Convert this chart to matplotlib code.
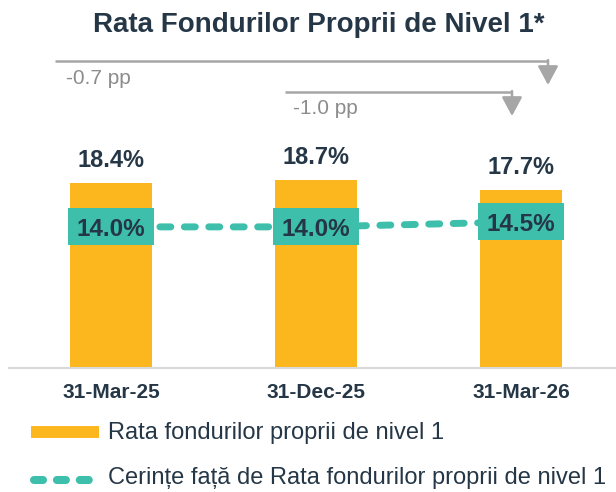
import matplotlib
matplotlib.use("Agg")
import matplotlib.pyplot as plt
from matplotlib.patches import Rectangle
from matplotlib.lines import Line2D

plt.rcParams['font.family'] = ['Liberation Sans', 'DejaVu Sans']

# data
dates = ["31-Mar-25", "31-Dec-25", "31-Mar-26"]
tier1_ratio = [18.4, 18.7, 17.7]
requirement = [14.0, 14.0, 14.5]
series_names = ["Rata fondurilor proprii de nivel 1",
                "Cerințe față de Rata fondurilor proprii de nivel 1"]
title = "Rata Fondurilor Proprii de Nivel 1*"
# (start index, end index, label)
changes = [(0, 2, "-0.7 pp"), (1, 2, "-1.0 pp")]

navy = "#253746"
orange = "#FDB71E"
teal = "#3DBFAC"
grey_arrow = "#A6A6A6"
grey_text = "#8C8C8C"

W, H = 616, 492
fig = plt.figure(figsize=(W / 100, H / 100), dpi=100)

# axes: baseline at y=368px, x from 9px to 616px
base_px = 368
top_px = 30
ax = fig.add_axes([9 / W, (H - base_px) / H, (W - 9) / W, (base_px - top_px) / H])
px_per_unit = 10.08
ax.set_ylim(0, (base_px - top_px) / px_per_unit)
x = list(range(len(dates)))
ax.set_xlim((9 - 111) / 205, (616 - 111) / 205)

ax.bar(x, tier1_ratio, width=0.4, color=orange, zorder=2)
for xi, v in zip(x, tier1_ratio):
    ax.annotate(f"{v:.1f}%", (xi, v), xytext=(0, 11), textcoords="offset points",
                ha="center", va="baseline", fontsize=17, fontweight="bold", color=navy)

ln, = ax.plot(x, requirement, color=teal, lw=5, zorder=3,
              dash_capstyle="round")
ln.set_dashes((1.58, 1.94))

box_h = 37 / px_per_unit
for xi, v in zip(x, requirement):
    ax.add_patch(Rectangle((xi - 0.21, v - box_h / 2), 0.42, box_h,
                           facecolor=teal, edgecolor="none", zorder=4))
    ax.text(xi, v, f"{v:.1f}%", ha="center", va="center_baseline", fontsize=17.5,
            fontweight="bold", color=navy, zorder=5)

# change arrows
arrow_rows = [((55 - 111) / 205, (548 - 111) / 205, (368 - 61) / px_per_unit,
               (368 - 85) / px_per_unit, (66 - 111) / 205, (368 - 79) / px_per_unit),
              ((285 - 111) / 205, (512 - 111) / 205, (368 - 92) / px_per_unit,
               (368 - 116) / px_per_unit, (293 - 111) / 205, (368 - 108) / px_per_unit)]
for (i0, i1, lab), (xs, xe, yl, ytip, xt, yt) in zip(changes, arrow_rows):
    ax.plot([xs, xe], [yl, yl], color=grey_arrow, lw=1.8, solid_capstyle="butt",
            clip_on=False)
    ax.annotate("", xy=(xe, ytip), xytext=(xe, yl + 0.09),
                arrowprops=dict(arrowstyle="-|>,head_length=1.15,head_width=0.62",
                                color=grey_arrow, lw=1.8, shrinkA=0, shrinkB=0),
                annotation_clip=False)
    ax.text(xt, yt, lab, ha="left", va="center", fontsize=15, color=grey_text)

ax.set_xticks(x)
ax.set_xticklabels(dates, fontsize=15, fontweight="bold", color=navy)
ax.tick_params(axis="x", length=0, pad=11)
ax.set_yticks([])
for s in ["top", "right", "left"]:
    ax.spines[s].set_visible(False)
ax.spines["bottom"].set_color("#D9D9D9")
ax.spines["bottom"].set_linewidth(1.5)

fig.text(319 / W, 1 - 25 / H, title, ha="center", va="center", fontsize=20,
         fontweight="bold", color=navy)

# legend
fig.add_artist(Line2D([31 / W, 99 / W], [1 - 432 / H, 1 - 432 / H], color=orange,
                      lw=8.6, solid_capstyle="butt", transform=fig.transFigure))
fig.text(108 / W, 1 - 433 / H, series_names[0], ha="left", va="center",
         fontsize=17, color=navy)
leg_line = Line2D([34 / W, 91 / W], [1 - 480 / H, 1 - 480 / H], color=teal, lw=5.8,
                  dash_capstyle="round", transform=fig.transFigure)
leg_line.set_dashes((1.12, 1.72))
fig.add_artist(leg_line)
fig.text(108 / W, 1 - 478 / H, series_names[1], ha="left", va="center",
         fontsize=17, color=navy)

fig.savefig("out.png", dpi=100)
